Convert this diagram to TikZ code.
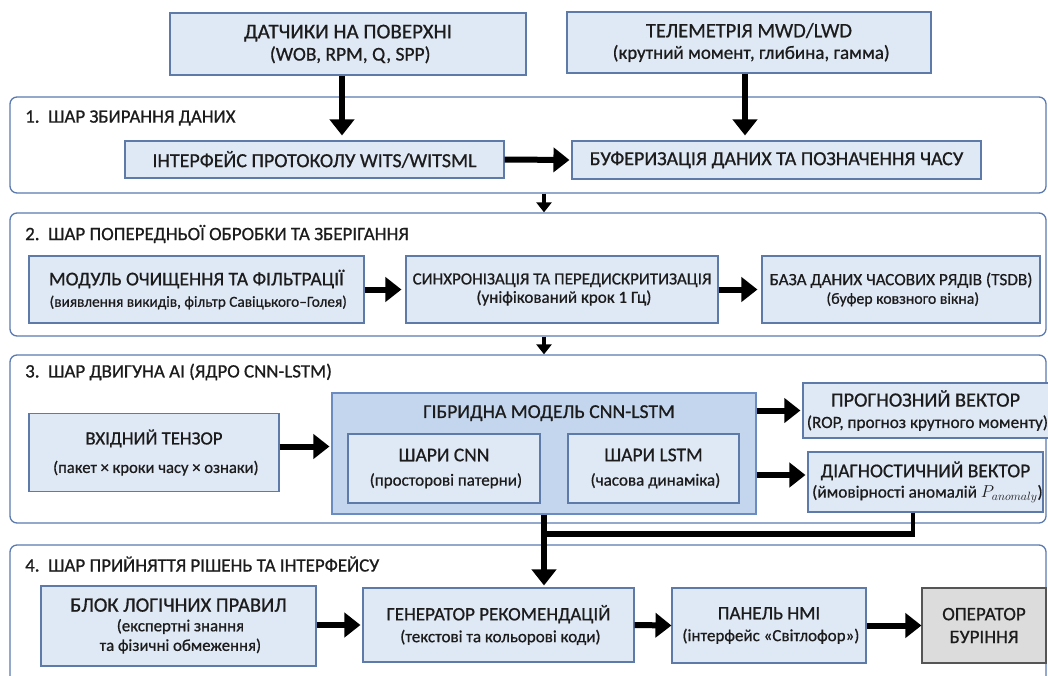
\documentclass[tikz,border=0pt]{standalone}
\usepackage{fontspec}
\setmainfont{Carlito}[FakeBold=0.7,AutoFakeBold=0.7]
\newfontfamily\boxfont{Carlito}[FakeBold=0.7]
\usetikzlibrary{arrows.meta,calc}
\definecolor{boxfill}{HTML}{DFE8F5}
\definecolor{boxline}{HTML}{5D7AA8}
\definecolor{framel}{HTML}{5A7AB0}
\definecolor{hybfill}{HTML}{C4D6EE}
\definecolor{hybline}{HTML}{6A8CC0}
\definecolor{opfill}{HTML}{DCDCDC}
\definecolor{opline}{HTML}{555555}
\definecolor{ink}{HTML}{1C1C1C}
% font size with a leading of 1.2 times the size
\newcommand{\fsz}[1]{\boxfont\fontsize{#1}{\fpeval{1.2*#1}}\selectfont}
\tikzset{
  box/.style={draw=boxline, fill=boxfill, line width=1.1pt, inner sep=0pt,
    align=center, text=ink, font=\fsz{19}},
  hyb/.style={box, draw=hybline, fill=hybfill},
  opbox/.style={box, draw=opline, fill=opfill},
  layer/.style={draw=framel, fill=white, line width=1.3pt, rounded corners=7pt, inner sep=0pt},
  ltitle/.style={anchor=west, text=ink, inner sep=0pt, font=\fsz{18.9}},
  bigarrow/.style={draw=black, line width=6pt, -{Triangle[width=24pt,length=16pt]}},
  smallarrow/.style={draw=black, line width=3.5pt, -{Triangle[width=15pt,length=10pt]}},
  joinline/.style={draw=black, line width=6pt},
}
\begin{document}
\begin{tikzpicture}[x=1pt, y=-1pt]
\useasboundingbox (0,0) rectangle (1048,675);
\clip (0,0) rectangle (1048,675);

% ---- layer frames ----
\node[layer, minimum width=1036, minimum height=96]  (L1) at (528,145)   {};
\node[layer, minimum width=1036, minimum height=123] (L2) at (528,274.5) {};
\node[layer, minimum width=1036, minimum height=168] (L3) at (528,439)   {};
\node[layer, minimum width=1036, minimum height=155] (L4) at (528,622.5) {};

\node[ltitle] (t1) at (25,118) {1.\ \ ШАР ЗБИРАННЯ ДАНИХ};
\node[ltitle] (t2) at (25,234) {2.\ \ ШАР ПОПЕРЕДНЬОЇ ОБРОБКИ ТА ЗБЕРІГАННЯ};
\node[ltitle] (t3) at (25,372) {3.\ \ ШАР ДВИГУНА AI (ЯДРО CNN-LSTM)};
\node[ltitle] (t4) at (25,564) {4.\ \ ШАР ПРИЙНЯТТЯ РІШЕНЬ ТА ІНТЕРФЕЙСУ};

% ---- sources ----
\node[box, font=\fsz{21}, minimum width=356, minimum height=62] (sens) at (348,44)
  {ДАТЧИКИ НА ПОВЕРХНІ\\[-3pt]\fsz{19.5} (WOB, RPM, Q, SPP)};
\node[box, font=\fsz{20.5}, minimum width=364, minimum height=61] (telem) at (749,42.5)
  {ТЕЛЕМЕТРІЯ MWD/LWD\\[-3pt]\fsz{19} (крутний момент, глибина, гамма)};

% ---- layer 1 ----
\node[box, font=\fsz{20}, minimum width=379, minimum height=37] (wits) at (314.5,159.5)
  {ІНТЕРФЕЙС ПРОТОКОЛУ WITS/WITSML};
\node[box, font=\fsz{20}, minimum width=409, minimum height=38] (buf) at (776.5,160)
  {БУФЕРИЗАЦІЯ ДАНИХ ТА ПОЗНАЧЕННЯ ЧАСУ};

% ---- layer 2 ----
\node[box, font=\fsz{19.5}, minimum width=335, minimum height=67] (clean) at (196.5,289.5)
  {МОДУЛЬ ОЧИЩЕННЯ ТА ФІЛЬТРАЦІЇ\\[-2pt]\fsz{15.3} (виявлення викидів, фільтр Савіцького–Голея)};
\node[box, font=\fsz{17}, minimum width=312, minimum height=67] (sync) at (562,289.5)
  {СИНХРОНІЗАЦІЯ ТА ПЕРЕДИСКРИТИЗАЦІЯ\\[-2pt]\fsz{17} (уніфікований крок 1 Гц)};
\node[box, font=\fsz{17.2}, minimum width=278, minimum height=67] (tsdb) at (901,289.5)
  {БАЗА ДАНИХ ЧАСОВИХ РЯДІВ (TSDB)\\[-2pt]\fsz{15.8} (буфер ковзного вікна)};

% ---- layer 3 ----
\node[box, font=\fsz{18.7}, minimum width=250, minimum height=78] (input) at (154,452.5)
  {ВХІДНИЙ ТЕНЗОР\\[6pt]\fsz{16.6} (пакет × кроки часу × ознаки)};
\node[hyb, minimum width=424, minimum height=121] (hyb) at (544,453.5) {};
\node[anchor=north, inner sep=0pt, text=ink, font=\fsz{19.7}]
  (hybt) at (549,405) {ГІБРИДНА МОДЕЛЬ CNN-LSTM};
\node[box, font=\fsz{19.5}, minimum width=192, minimum height=69] (cnn) at (444,468.5)
  {ШАРИ CNN\\[1pt]\fsz{17} (просторові патерни)};
\node[box, font=\fsz{19.5}, minimum width=171, minimum height=69] (lstm) at (653.5,468.5)
  {ШАРИ LSTM\\[1pt]\fsz{17} (часова динаміка)};
\node[box, font=\fsz{20.3}, minimum width=235, minimum height=55] (prog) at (925.5,410.5)
  {ПРОГНОЗНИЙ ВЕКТОР\\[-3pt]\fsz{17.2} (ROP, прогноз крутного моменту)};
\node[box, font=\fsz{19.5}, minimum width=235, minimum height=60] (diag) at (925.5,482)
  {ДІАГНОСТИЧНИЙ ВЕКТОР\\[-3pt]\fsz{17.2} (ймовірності аномалій $P_{anomaly}$)};

% ---- layer 4 ----
\node[box, font=\fsz{20.5}, minimum width=275, minimum height=80] (rules) at (178.5,626)
  {БЛОК ЛОГІЧНИХ ПРАВИЛ\\[-5pt]\fsz{16.8} (експертні знання\\[-5pt]\fsz{16.8} та фізичні обмеження)};
\node[box, font=\fsz{19}, minimum width=271, minimum height=74] (gen) at (498.5,625)
  {ГЕНЕРАТОР РЕКОМЕНДАЦІЙ\\[-1pt]\fsz{17} (текстові та кольорові коди)};
\node[box, font=\fsz{19}, minimum width=194, minimum height=75] (hmi) at (769,625.5)
  {ПАНЕЛЬ НМІ\\[-1pt]\fsz{17} (інтерфейс «Світлофор»)};
\node[opbox, font=\fsz{19}, minimum width=124, minimum height=75] (oper) at (984,625.5)
  {ОПЕРАТОР\\БУРІННЯ};

% ---- connectors ----
\draw[bigarrow, shorten >=5pt] ($(sens.south)+(-6,0)$) -- ($(sens.south |- wits.north)+(-6,0)$);
\draw[bigarrow, shorten >=5pt] ($(telem.south)+(-4,0)$) -- ($(telem.south |- buf.north)+(-4,0)$);
\draw[bigarrow, shorten >=2pt] (wits.east) -- (buf.west);

\draw[smallarrow] (hyb.north |- L1.south) -- (hyb.north |- L2.north);
\draw[smallarrow] (hyb.north |- L2.south) -- (hyb.north |- L3.north);

\draw[bigarrow, shorten >=4pt] (clean.east) -- (sync.west);
\draw[bigarrow, shorten >=4pt] (sync.east) -- (tsdb.west);

\draw[bigarrow, shorten >=2pt] ($(input.east)+(0,-6)$) -- ($(input.east -| hyb.west)+(0,-6)$);
\draw[bigarrow, shorten >=2pt] (hyb.east |- prog.west) -- (prog.west);
\draw[bigarrow, shorten >=2pt] ($(hyb.east |- diag.west)+(0,-7)$) -- ($(diag.west)+(0,-7)$);

\coordinate (j1) at (913,534);
\coordinate (j2) at (544,534);
\draw[joinline, line width=4pt] (diag.south -| j1) -- ($(j1)+(0,2)$);
\draw[joinline] ($(j1)+(2,0)$) -- (j2);
\draw[bigarrow, shorten >=2pt] (hyb.south) -- (hyb.south |- gen.north);

\draw[bigarrow, shorten >=2pt] (rules.east |- gen.west) -- (gen.west);
\draw[bigarrow] (gen.east) -- (hmi.west);
\draw[bigarrow] (hmi.east) -- (oper.west);
\end{tikzpicture}
\end{document}
